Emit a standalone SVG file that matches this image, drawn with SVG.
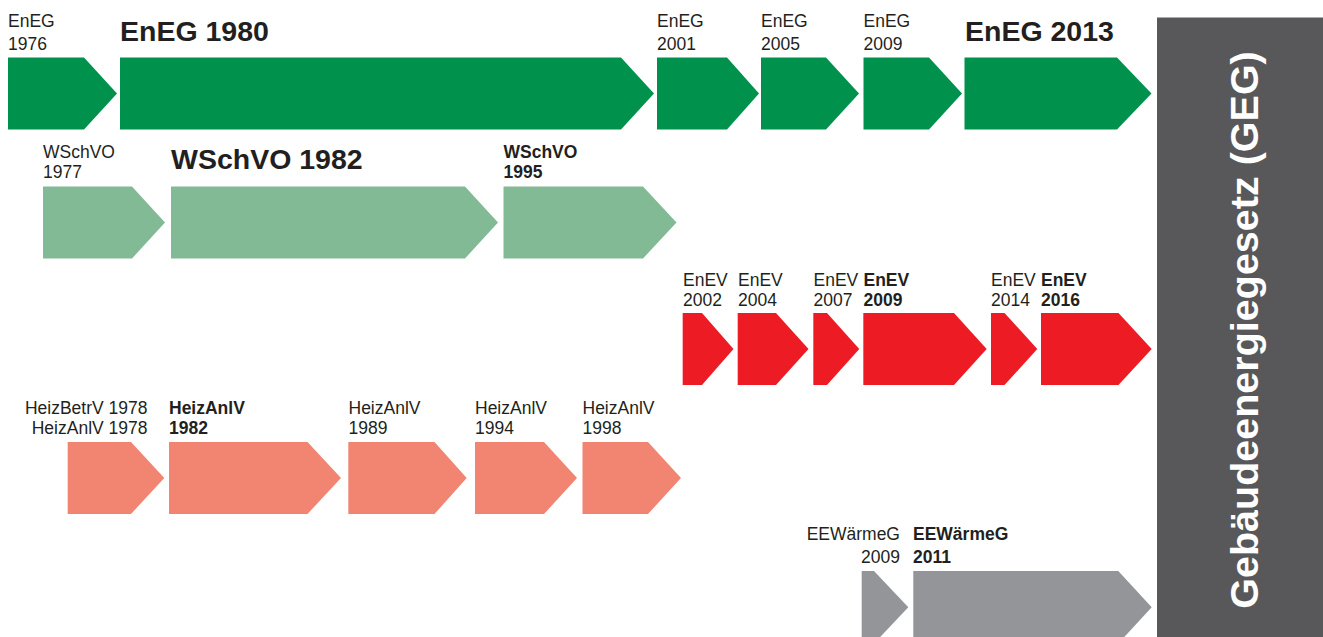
<svg xmlns="http://www.w3.org/2000/svg" width="1323" height="637" viewBox="0 0 1323 637">
<style>
text{font-family:"Liberation Sans",Arial,Helvetica,sans-serif;fill:#231F20}
.s{font-size:17.5px}
.b{font-weight:bold}
.L{font-size:28.5px;font-weight:bold}
.r{text-anchor:end}
.g1{fill:#00914C}
.g2{fill:#83BA96}
.rd{fill:#ED1C24}
.sa{fill:#F28472}
.gy{fill:#939598}
.box{fill:#58585A}
.vt{font-size:39.5px;font-weight:bold;fill:#FFFFFF;text-anchor:middle}
</style>
<rect width="1323" height="637" fill="#FFFFFF"/>

<!-- Row 1: EnEG -->
<g id="eneg1976"><path class="g1" d="M8,57.5H84L117,93.5L84,129.5H8Z"/><text class="s" x="8" y="27">EnEG</text><text class="s" x="8" y="50">1976</text></g>
<g id="eneg1980"><path class="g1" d="M120,57.5H621L654,93.5L621,129.5H120Z"/><text class="L" x="120" y="41">EnEG 1980</text></g>
<g id="eneg2001"><path class="g1" d="M657,57.5H727L759,93.5L727,129.5H657Z"/><text class="s" x="657" y="27">EnEG</text><text class="s" x="657" y="50">2001</text></g>
<g id="eneg2005"><path class="g1" d="M761,57.5H826L859,93.5L826,129.5H761Z"/><text class="s" x="761" y="27">EnEG</text><text class="s" x="761" y="50">2005</text></g>
<g id="eneg2009"><path class="g1" d="M863.5,57.5H929L962,93.5L929,129.5H863.5Z"/><text class="s" x="863.5" y="27">EnEG</text><text class="s" x="863.5" y="50">2009</text></g>
<g id="eneg2013"><path class="g1" d="M964.5,57.5H1117L1151.5,93.5L1117,129.5H964.5Z"/><text class="L" x="965" y="41">EnEG 2013</text></g>

<!-- Row 2: WSchVO -->
<g id="wschvo1977"><path class="g2" d="M43,186.5H132L165,222.5L132,258.5H43Z"/><text class="s" x="43" y="157.7">WSchVO</text><text class="s" x="43" y="177.7">1977</text></g>
<g id="wschvo1982"><path class="g2" d="M171,186.5H465L498,222.5L465,258.5H171Z"/><text class="L" x="171" y="169">WSchVO 1982</text></g>
<g id="wschvo1995"><path class="g2" d="M503.5,186.5H643L676.5,222.5L643,258.5H503.5Z"/><text class="s b" x="503.5" y="157.7">WSchVO</text><text class="s b" x="503.5" y="177.7">1995</text></g>

<!-- Row 3: EnEV -->
<g id="enev2002"><path class="rd" d="M682.7,313H702L733.5,349L702,385H682.7Z"/><text class="s" x="683" y="285.7">EnEV</text><text class="s" x="683" y="305.7">2002</text></g>
<g id="enev2004"><path class="rd" d="M737.7,313H776L808.5,349L776,385H737.7Z"/><text class="s" x="738" y="285.7">EnEV</text><text class="s" x="738" y="305.7">2004</text></g>
<g id="enev2007"><path class="rd" d="M813.3,313H827L859.3,349L827,385H813.3Z"/><text class="s" x="813.5" y="285.7">EnEV</text><text class="s" x="813.5" y="305.7">2007</text></g>
<g id="enev2009"><path class="rd" d="M863.3,313H954L986.7,349L954,385H863.3Z"/><text class="s b" x="863.5" y="285.7">EnEV</text><text class="s b" x="863.5" y="305.7">2009</text></g>
<g id="enev2014"><path class="rd" d="M991,313H1004.5L1037.3,349L1004.5,385H991Z"/><text class="s" x="991" y="285.7">EnEV</text><text class="s" x="991" y="305.7">2014</text></g>
<g id="enev2016"><path class="rd" d="M1041,313H1118.5L1151.7,349L1118.5,385H1041Z"/><text class="s b" x="1041" y="285.7">EnEV</text><text class="s b" x="1041" y="305.7">2016</text></g>

<!-- Row 4: HeizAnlV -->
<g id="heiz1978"><path class="sa" d="M67.7,442H131L164.3,478L131,514H67.7Z"/><text class="s r" x="147.5" y="414">HeizBetrV 1978</text><text class="s r" x="147.5" y="434">HeizAnlV 1978</text></g>
<g id="heiz1982"><path class="sa" d="M169,442H307.5L341,478L307.5,514H169Z"/><text class="s b" x="169" y="414">HeizAnlV</text><text class="s b" x="169" y="434">1982</text></g>
<g id="heiz1989"><path class="sa" d="M348.3,442H434.5L466.7,478L434.5,514H348.3Z"/><text class="s" x="348.5" y="414">HeizAnlV</text><text class="s" x="348.5" y="434">1989</text></g>
<g id="heiz1994"><path class="sa" d="M475,442H544L577,478L544,514H475Z"/><text class="s" x="475" y="414">HeizAnlV</text><text class="s" x="475" y="434">1994</text></g>
<g id="heiz1998"><path class="sa" d="M582.5,442H648L681,478L648,514H582.5Z"/><text class="s" x="582.5" y="414">HeizAnlV</text><text class="s" x="582.5" y="434">1998</text></g>

<!-- Row 5: EEWärmeG -->
<g id="eewg2009"><path class="gy" d="M861.7,571H874L908.3,607.3L874,643.5H861.7Z"/><text class="s r" x="900" y="540">EEWärmeG</text><text class="s r" x="900" y="563">2009</text></g>
<g id="eewg2011"><path class="gy" d="M913.3,571H1118.3L1151.7,607.3L1118.3,643.5H913.3Z"/><text class="s b" x="913" y="540">EEWärmeG</text><text class="s b" x="913" y="563">2011</text></g>

<!-- GEG box -->
<g id="geg"><rect class="box" x="1157" y="17.5" width="166" height="620"/><text class="vt" transform="translate(1258,330) rotate(-90)">Gebäudeenergiegesetz (GEG)</text></g>

<g id="connectors"></g>
</svg>
